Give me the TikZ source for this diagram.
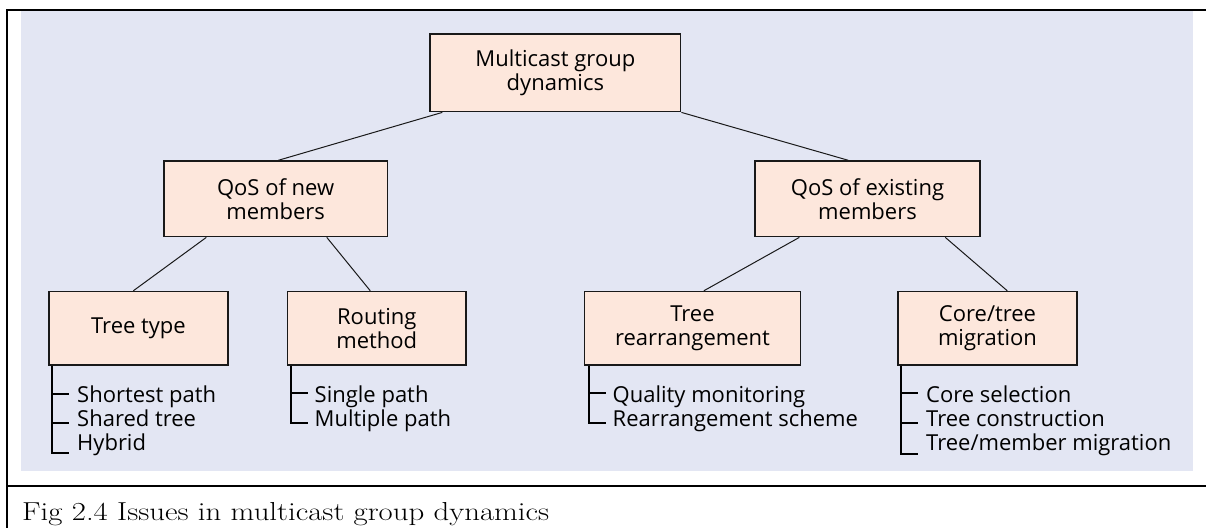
\documentclass[tikz,border=0pt]{standalone}
\usepackage{graphicx}
\usepackage{fontspec}
\newfontfamily\boxfont{Open Sans}
\definecolor{panelbg}{RGB}{227,230,243}
\definecolor{boxfill}{RGB}{253,231,220}
\definecolor{inkline}{RGB}{25,25,25}
\tikzset{
  topic/.style={draw=inkline, line width=1.4pt, fill=boxfill, rectangle,
    inner sep=0pt, align=center, font=\boxfont\fontsize{22}{24}\selectfont},
  link/.style={draw=inkline, line width=1pt},
  bracket/.style={draw=black, line width=1.8pt},
  item/.style={anchor=base west, inner sep=0pt, font=\boxfont\fontsize{22}{24}\selectfont},
  frame/.style={draw=black, line width=2.2pt}
}
\begin{document}
\begin{tikzpicture}[x=1pt, y=-1pt]
\useasboundingbox (0,0) rectangle (1206,528);

% shaded panel and surrounding frame
\fill[panelbg] (21,11) rectangle (1193,471);
\draw[frame] (1206,10) -- (7,10) -- (7,528);
\draw[frame] (7,486) -- (1206,486);

% boxes
\node[topic, minimum width=250.7pt, minimum height=77.7pt] (top) at (555.35,72.85) {Multicast group\\dynamics};
\node[topic, minimum width=223.3pt, minimum height=75.7pt] (qnew) at (275.65,198.85) {QoS of new\\members};
\node[topic, minimum width=225pt, minimum height=75.7pt] (qold) at (867.5,198.85) {QoS of existing\\members};
\node[topic, minimum width=179pt, minimum height=73.5pt] (tree) at (138.5,328.25) {Tree type};
\node[topic, minimum width=178.5pt, minimum height=73.5pt] (route) at (376.75,328.25) {Routing\\method};
\node[topic, minimum width=216pt, minimum height=73.5pt] (rearr) at (692.5,328.25) {Tree\\rearrangement};
\node[topic, minimum width=179pt, minimum height=73.5pt] (core) at (987.5,328.25) {Core/tree\\migration};

% tree connectors
\draw[link] ([xshift=13pt]top.south west) -- ([xshift=115pt]qnew.north west);
\draw[link] (top.south east) -- ([xshift=94pt]qold.north west);
\draw[link] ([xshift=43pt]qnew.south west) -- ([xshift=85pt]tree.north west);
\draw[link] ([xshift=163.5pt]qnew.south west) -- ([xshift=83.5pt]route.north west);
\draw[link] ([xshift=45pt]qold.south west) -- ([xshift=120pt]rearr.north west);
\draw[link] ([xshift=191pt]qold.south west) -- ([xshift=110pt]core.north west);

% item lists
\node[item] (t1) at (77,402.5) {Shortest path};
\node[item] (t2) at (77,426) {Shared tree};
\node[item] (t3) at (77,450.5) {Hybrid};
\node[item] (r1) at (314.5,402.5) {Single path};
\node[item] (r2) at (314.5,426) {Multiple path};
\node[item] (a1) at (612.5,402.5) {Quality monitoring};
\node[item] (a2) at (612.5,426) {Rearrangement scheme};
\node[item] (c1) at (926,402.5) {Core selection};
\node[item] (c2) at (926,426) {Tree construction};
\node[item] (c3) at (926,450.5) {Tree/member migration};

\draw[bracket] ([xshift=4pt]tree.south west) -- ++(0,87) -- ++(17,0);
\draw[bracket] ([xshift=4pt,yshift=-28pt]tree.south west) -- ++(17,0);
\draw[bracket] ([xshift=4pt,yshift=-57pt]tree.south west) -- ++(17,0);

\draw[bracket] ([xshift=4.5pt]route.south west) -- ++(0,57) -- ++(17,0);
\draw[bracket] ([xshift=4.5pt,yshift=-27pt]route.south west) -- ++(17,0);

\draw[bracket] ([xshift=5pt]rearr.south west) -- ++(0,57) -- ++(17,0);
\draw[bracket] ([xshift=5pt,yshift=-27pt]rearr.south west) -- ++(17,0);

\draw[bracket] ([xshift=4pt]core.south west) -- ++(0,88) -- ++(17,0);
\draw[bracket] ([xshift=4pt,yshift=-27pt]core.south west) -- ++(17,0);
\draw[bracket] ([xshift=4pt,yshift=-57pt]core.south west) -- ++(17,0);

% caption, widened to the column it sits in
\node[anchor=base west, inner sep=0pt, font=\fontsize{26}{30}\selectfont] (cap) at (22,520)
  {\resizebox{527pt}{\height}{Fig 2.4 Issues in multicast group dynamics}};
\end{tikzpicture}
\end{document}
